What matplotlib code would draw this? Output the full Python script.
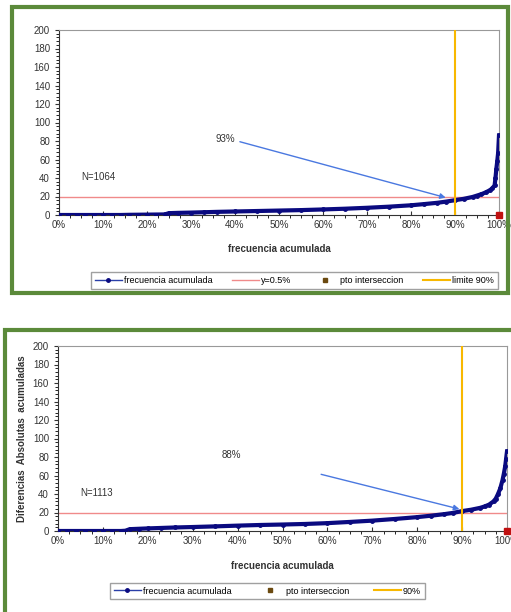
import matplotlib.pyplot as plt
from matplotlib.patches import Rectangle
from matplotlib.lines import Line2D
from matplotlib.ticker import MultipleLocator, PercentFormatter

plt.rcParams['font.family'] = ['Liberation Sans', 'DejaVu Sans']

# top chart: sorted cumulative values (x in %, y value)
top_x = [0, 2, 4, 6, 8, 10, 12, 14, 16, 18, 20, 22, 24, 25, 27, 30, 33, 36, 40, 45,
         50, 55, 60, 65, 70, 75, 80, 83, 86, 88, 90, 92, 94, 95, 96, 97, 98, 98.5,
         99, 99.2, 99.4, 99.6, 99.8, 100]
top_y = [0, 0, 0, 0, 0, 0, 0, 0, 0.2, 0.3, 0.4, 0.5, 0.6, 2, 2.3, 2.6, 3, 3.4, 3.8, 4.3,
         4.8, 5.3, 6, 6.8, 7.8, 9, 10.5, 11.8, 13.2, 14.5, 16, 17.5, 19.5, 21, 22.5, 24.5,
         27, 29, 32, 40, 50, 58, 67, 86]
top_n = 'N=1064'
top_pct = '93%'

# bottom chart
bot_x = [0, 2, 4, 6, 8, 10, 12, 14, 15, 16, 18, 20, 23, 26, 30, 35, 40, 45, 50, 55,
         60, 65, 70, 75, 80, 83, 86, 88, 90, 92, 94, 95, 96, 97, 97.5, 98, 98.5, 99,
         99.3, 99.6, 99.8, 100]
bot_y = [0, 0, 0, 0, 0, 0, 0, 0, 0.3, 2, 2.4, 2.8, 3.3, 3.8, 4.3, 5, 5.8, 6.5, 7, 7.6,
         8.5, 9.8, 11.2, 13, 15, 16.5, 18.2, 19.6, 21.5, 23, 25, 26.5, 28.5, 32, 35, 40,
         46, 55, 62, 70, 78, 86]
bot_n = 'N=1113'
bot_pct = '88%'

limit_y = 20
limit_x = 90

navy = '#0a0a80'
arrow_c = '#4a78e0'
red_c = '#f08a8a'
orange = '#f8b800'
green = '#5b8a3a'

fig = plt.figure(figsize=(5.11, 6.12), dpi=100)
fig.patch.set_facecolor('white')

# green frames
fig.patches.append(Rectangle((12 / 511, 1 - 293 / 612), 496 / 511, 286 / 612,
                             transform=fig.transFigure, fill=False,
                             edgecolor=green, linewidth=3))
fig.patches.append(Rectangle((5 / 511, -0.02), 1.1, (612 - 330) / 612 + 0.02,
                             transform=fig.transFigure, fill=False,
                             edgecolor=green, linewidth=3))

leg_line = Line2D([], [], color='#2a3fa8', lw=1, marker='o', markersize=2.5,
                  markerfacecolor=navy, markeredgecolor=navy)
leg_red = Line2D([], [], color=red_c, lw=1)
leg_pto = Line2D([], [], color='#6b4a10', lw=0, marker='s', markersize=3)
leg_or = Line2D([], [], color=orange, lw=1.5)


def draw(ax, xs, ys, ntext, pct, text_xy, arr_from, arr_to):
    ax.plot(xs, ys, color=navy, linewidth=3, marker='o', markersize=2.5, zorder=3)
    ax.axhline(limit_y, color=red_c, linewidth=1, zorder=2)
    ax.plot([100], [0], 's', color='#c01010', markersize=5, clip_on=False, zorder=5)
    ax.axvline(limit_x, color=orange, linewidth=1.5, zorder=4)
    ax.set_xlim(0, 100)
    ax.set_ylim(0, 200)
    ax.yaxis.set_major_locator(MultipleLocator(20))
    ax.yaxis.set_minor_locator(MultipleLocator(4))
    ax.xaxis.set_major_locator(MultipleLocator(10))
    ax.xaxis.set_minor_locator(MultipleLocator(2.5))
    ax.xaxis.set_major_formatter(PercentFormatter(decimals=0))
    ax.tick_params(labelsize=7, colors='#333333', length=3)
    ax.tick_params(which='minor', length=2)
    ax.tick_params(axis='x', direction='in')
    for s in ax.spines.values():
        s.set_color('#999999')
    ax.spines['bottom'].set_color('#333333')
    ax.spines['left'].set_color('#333333')
    ax.text(5, 38, ntext, fontsize=7, color='#333333')
    ax.text(text_xy[0], text_xy[1], pct, fontsize=7, color='#333333')
    ax.annotate('', xy=arr_to, xytext=arr_from,
                arrowprops=dict(arrowstyle='-|>', color=arrow_c, lw=1,
                                mutation_scale=8), zorder=6)


ax1 = fig.add_axes([59 / 511, 397 / 612, 440 / 511, 185 / 612])
draw(ax1, top_x, top_y, top_n, top_pct, (35.5, 79), (40.5, 80), (88.5, 18))
fig.text(279 / 511, 1 - 249 / 612, 'frecuencia acumulada', ha='center', va='center',
         fontsize=7, fontweight='bold', color='#333333')
fig.legend([leg_line, leg_red, leg_pto, leg_or],
           ['frecuencia acumulada', 'y=0.5%', 'pto interseccion', 'limite 90%'],
           loc='center', bbox_to_anchor=(294.5 / 511, 331.5 / 612), ncol=4,
           fontsize=6.5, frameon=True, fancybox=False, edgecolor='#888888',
           handlelength=3, columnspacing=2.2, borderpad=0.4, handletextpad=0.2)

ax2 = fig.add_axes([58 / 511, 81 / 612, 449 / 511, 185 / 612])
draw(ax2, bot_x, bot_y, bot_n, bot_pct, (36.5, 79), (58, 62), (90, 23))
ax2.set_ylabel('Diferencias  Absolutas  acumuladas', fontsize=7, fontweight='bold',
               color='#333333', labelpad=4)
fig.text(282 / 511, 1 - 566 / 612, 'frecuencia acumulada', ha='center', va='center',
         fontsize=7, fontweight='bold', color='#333333')
fig.legend([leg_line, leg_pto, leg_or],
           ['frecuencia acumulada', 'pto interseccion', '90%'],
           loc='center', bbox_to_anchor=(267.5 / 511, 21 / 612), ncol=3,
           fontsize=6.5, frameon=True, fancybox=False, edgecolor='#888888',
           handlelength=3, columnspacing=2.8, borderpad=0.4, handletextpad=0.2)

fig.savefig('out.png', dpi=100)
